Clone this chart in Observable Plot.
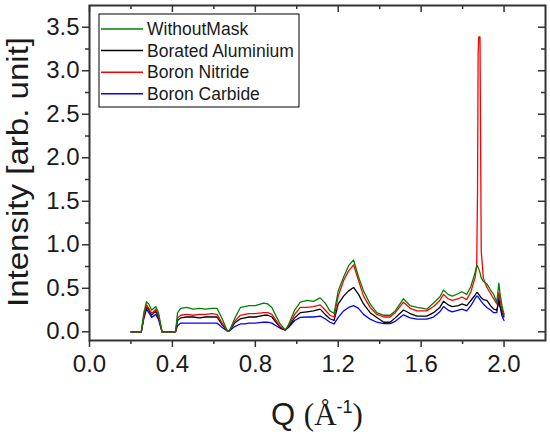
<!DOCTYPE html>
<html><head><meta charset="utf-8">
<script src="https://cdn.jsdelivr.net/npm/d3@7"></script>
<script src="https://cdn.jsdelivr.net/npm/@observablehq/plot@0.6"></script>
<style>body{margin:0;background:#fff;} svg{display:block}</style>
</head><body><div id="chart"></div>
<script>
const Q = [0.20, 0.25, 0.262, 0.275, 0.286, 0.30, 0.32, 0.333, 0.35, 0.415,
  0.425, 0.44, 0.47, 0.50, 0.53, 0.56, 0.59, 0.615, 0.64, 0.665,
  0.675, 0.70, 0.728, 0.75, 0.77, 0.80, 0.84, 0.86, 0.88, 0.90,
  0.92, 0.945, 0.96, 0.99, 1.017, 1.05, 1.08, 1.113, 1.137, 1.16,
  1.18, 1.20, 1.226, 1.25, 1.274, 1.298, 1.322, 1.354, 1.386, 1.42,
  1.45, 1.475, 1.515, 1.547, 1.58, 1.61, 1.627, 1.66, 1.69, 1.708,
  1.73, 1.75, 1.78, 1.796, 1.82, 1.84, 1.86, 1.868, 1.872, 1.875,
  1.878, 1.884, 1.887, 1.89, 1.90, 1.917, 1.935, 1.95, 1.965, 1.975,
  1.98, 1.99, 2.00];

const withoutMask = [0, 0, 0.22, 0.345, 0.32, 0.25, 0.29, 0.22, 0, 0,
  0.22, 0.27, 0.28, 0.26, 0.27, 0.26, 0.27, 0.27, 0.15, 0.01,
  0.01, 0.15, 0.28, 0.29, 0.30, 0.30, 0.33, 0.32, 0.28, 0.18,
  0.09, 0.02, 0.08, 0.25, 0.34, 0.36, 0.35, 0.39, 0.33, 0.24,
  0.21, 0.47, 0.63, 0.76, 0.825, 0.63, 0.47, 0.32, 0.22, 0.19,
  0.19, 0.24, 0.38, 0.30, 0.28, 0.27, 0.26, 0.33, 0.40, 0.48,
  0.43, 0.41, 0.44, 0.46, 0.43, 0.52, 0.68, 0.76, 0.76, 0.74,
  0.72, 0.68, 0.65, 0.62, 0.58, 0.55, 0.48, 0.43, 0.34, 0.56,
  0.45, 0.30, 0.20];

const boratedAluminium = [0, 0, 0.17, 0.29, 0.25, 0.19, 0.24, 0.17, 0, 0,
  0.13, 0.16, 0.17, 0.17, 0.16, 0.17, 0.17, 0.17, 0.08, 0.01,
  0.01, 0.10, 0.15, 0.16, 0.17, 0.17, 0.19, 0.19, 0.17, 0.11,
  0.05, 0.02, 0.06, 0.16, 0.22, 0.23, 0.24, 0.26, 0.20, 0.15,
  0.13, 0.32, 0.41, 0.47, 0.51, 0.43, 0.32, 0.22, 0.165, 0.11,
  0.11, 0.16, 0.25, 0.21, 0.18, 0.18, 0.18, 0.22, 0.28, 0.35,
  0.31, 0.29, 0.30, 0.32, 0.30, 0.36, 0.42, 0.45, 0.45, 0.44,
  0.43, 0.41, 0.40, 0.39, 0.37, 0.36, 0.30, 0.26, 0.25, 0.35,
  0.30, 0.22, 0.17];

const boronNitride = [0, 0, 0.18, 0.31, 0.27, 0.21, 0.26, 0.19, 0, 0,
  0.16, 0.19, 0.20, 0.19, 0.20, 0.20, 0.21, 0.20, 0.10, 0.01,
  0.01, 0.12, 0.19, 0.20, 0.21, 0.21, 0.22, 0.22, 0.20, 0.13,
  0.06, 0.02, 0.07, 0.20, 0.28, 0.28, 0.29, 0.31, 0.25, 0.19,
  0.17, 0.41, 0.59, 0.70, 0.77, 0.59, 0.41, 0.28, 0.20, 0.17,
  0.17, 0.22, 0.34, 0.27, 0.24, 0.24, 0.24, 0.29, 0.36, 0.43,
  0.38, 0.36, 0.38, 0.40, 0.37, 0.46, 0.62, 0.75, 1.60, 3.20,
  3.39, 3.39, 2.12, 0.93, 0.62, 0.51, 0.44, 0.38, 0.32, 0.45,
  0.38, 0.26, 0.19];

const boronCarbide = [0, 0, 0.15, 0.26, 0.22, 0.165, 0.20, 0.14, 0, 0,
  0.07, 0.10, 0.10, 0.10, 0.10, 0.10, 0.10, 0.10, 0.05, 0.01,
  0.01, 0.06, 0.09, 0.09, 0.10, 0.10, 0.11, 0.11, 0.10, 0.07,
  0.04, 0.02, 0.05, 0.13, 0.165, 0.17, 0.17, 0.18, 0.15, 0.11,
  0.09, 0.165, 0.24, 0.28, 0.30, 0.27, 0.20, 0.145, 0.11, 0.095,
  0.095, 0.12, 0.195, 0.16, 0.145, 0.145, 0.145, 0.17, 0.23, 0.29,
  0.25, 0.23, 0.25, 0.26, 0.24, 0.30, 0.38, 0.41, 0.41, 0.40,
  0.39, 0.37, 0.36, 0.35, 0.32, 0.28, 0.25, 0.22, 0.22, 0.40,
  0.30, 0.18, 0.13];

const seriesNames = ["WithoutMask", "Borated Aluminium", "Boron Nitride", "Boron Carbide"];
const seriesColors = ["#008000", "#000000", "#ff0000", "#0000ff"];
const seriesValues = [withoutMask, boratedAluminium, boronNitride, boronCarbide];
const drawOrder = ["Boron Carbide", "Borated Aluminium", "Boron Nitride", "WithoutMask"];

const xMajor = [0, 0.4, 0.8, 1.2, 1.6, 2.0];
const xMinor = [0.2, 0.6, 1.0, 1.4, 1.8];
const yMajor = [0, 0.5, 1.0, 1.5, 2.0, 2.5, 3.0, 3.5];
const yMinor = [0.25, 0.75, 1.25, 1.75, 2.25, 2.75, 3.25];

const rows = [];
seriesNames.forEach((s, i) => Q.forEach((q, j) => rows.push({q, v: seriesValues[i][j], s})));

const W = 550, H = 438, mL = 89, mR = 5, mT = 5, mB = 98;
const innerW = W - mL - mR, innerH = H - mT - mB;
const axisColor = "#333";
const textColor = "#1a1a1a";
const sans = "Arial, 'Liberation Sans', sans-serif";
const serif = "'Times New Roman', 'Liberation Serif', serif";

const plot = Plot.plot({
  width: W, height: H,
  marginLeft: mL, marginRight: mR, marginTop: mT, marginBottom: mB,
  style: {fontFamily: sans, background: "#fff", color: textColor},
  x: {domain: [0, 2.2]},
  y: {domain: [-0.1, 3.75]},
  color: {domain: seriesNames, range: seriesColors},
  marks: [
    ...drawOrder.map(name => Plot.line(rows.filter(r => r.s === name), {x: "q", y: "v", stroke: "s", strokeWidth: 1.3})),
    Plot.axisX(xMajor, {tickSize: 7, tickPadding: 7, fontSize: 24, tickFormat: d3.format(".1f"), label: null, stroke: axisColor, strokeWidth: 1.5}),
    Plot.axisX(xMinor, {tickSize: 4, tickFormat: () => "", label: null, stroke: axisColor, strokeWidth: 1.5}),
    Plot.axisY(yMajor, {tickSize: 7, tickPadding: 3, fontSize: 24, tickFormat: d3.format(".1f"), label: null, stroke: axisColor, strokeWidth: 1.5}),
    Plot.axisY(yMinor, {tickSize: 4, tickFormat: () => "", label: null, stroke: axisColor, strokeWidth: 1.5}),
    Plot.ruleX(xMajor, {x: d => d, insetBottom: innerH - 7, stroke: axisColor, strokeWidth: 1.5}),
    Plot.ruleX(xMinor, {x: d => d, insetBottom: innerH - 4, stroke: axisColor, strokeWidth: 1.5}),
    Plot.ruleY(yMajor, {y: d => d, insetLeft: innerW - 7, stroke: axisColor, strokeWidth: 1.5}),
    Plot.ruleY(yMinor, {y: d => d, insetLeft: innerW - 4, stroke: axisColor, strokeWidth: 1.5}),
    Plot.frame({stroke: axisColor, strokeWidth: 2})
  ]
});

document.getElementById("chart").appendChild(plot);
const svg = d3.select(plot);

// Y title
svg.append("text")
  .attr("transform", "translate(28,172) rotate(-90)")
  .attr("text-anchor", "middle")
  .attr("font-family", sans)
  .attr("font-size", 29)
  .attr("fill", textColor)
  .attr("textLength", 270)
  .attr("lengthAdjust", "spacingAndGlyphs")
  .text("Intensity [arb. unit]");

// X title
const xt = svg.append("text")
  .attr("x", mL + innerW / 2)
  .attr("y", 425)
  .attr("text-anchor", "middle")
  .attr("font-size", 31)
  .attr("fill", textColor);
xt.append("tspan").attr("font-family", sans).text("Q ");
xt.append("tspan").attr("font-family", serif).text("(Å");
xt.append("tspan").attr("font-family", sans).attr("font-size", 18).attr("dy", -12).text("-1");
xt.append("tspan").attr("font-family", serif).attr("dy", 12).text(")");

// Legend
const lg = svg.append("g").attr("text-anchor", "start");
lg.append("rect").attr("x", 99).attr("y", 14).attr("width", 200).attr("height", 93)
  .attr("fill", "#fff").attr("stroke", "#000").attr("stroke-width", 1);
seriesNames.forEach((name, i) => {
  const yLine = 29 + i * 21.6;
  lg.append("line").attr("x1", 101).attr("x2", 143).attr("y1", yLine).attr("y2", yLine)
    .attr("stroke", seriesColors[i]).attr("stroke-width", 1.5);
  lg.append("text").attr("x", 147).attr("y", 35 + i * 21.6)
    .attr("text-anchor", "start")
    .attr("font-family", sans).attr("font-size", 17.5).attr("fill", textColor).text(name);
});
</script>
</body></html>
